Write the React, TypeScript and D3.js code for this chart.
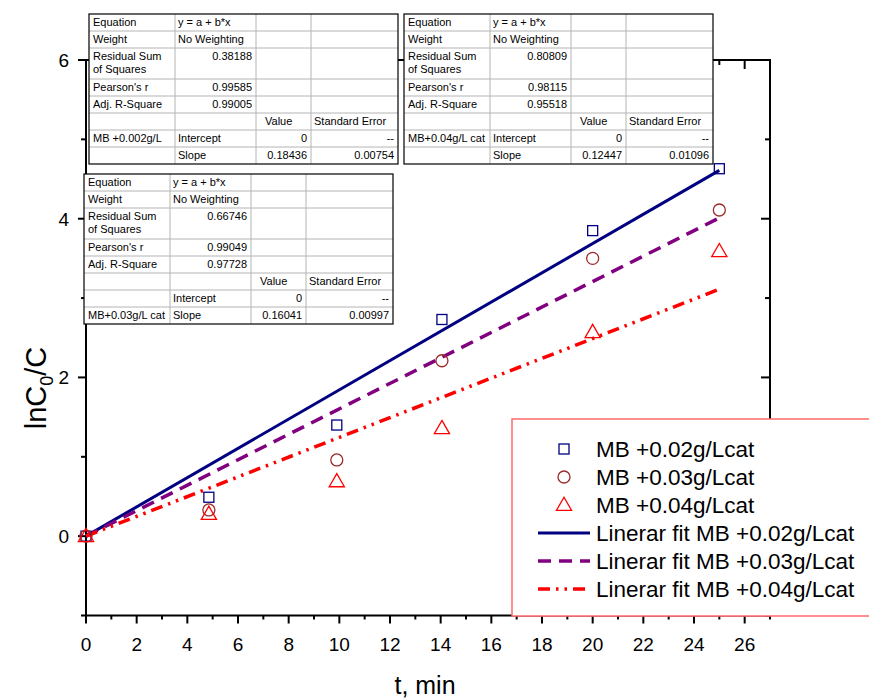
import React from 'react';
import * as d3 from 'd3';

// measured points (t in min, lnC0/C)
const tValues = [0, 4.85, 9.9, 14.05, 20, 25];
const mb002 = [0, 0.49, 1.4, 2.73, 3.85, 4.63];
const mb003 = [0, 0.33, 0.96, 2.21, 3.5, 4.11];
const mb004 = [0, 0.28, 0.69, 1.36, 2.57, 3.59];

// linear fits y = b*x
const fitSlopes = [0.18436, 0.16041, 0.12447];
const fitRange = [0, 25];

const xMajorTicks = [0, 2, 4, 6, 8, 10, 12, 14, 16, 18, 20, 22, 24, 26];
const xMinorTicks = [1, 3, 5, 7, 9, 11, 13, 15, 17, 19, 21, 23, 25, 27];
const yMajorTicks = [0, 2, 4, 6];
const yMinorTicks = [-1, 1, 3, 5];

const legendLabels = [
  'MB +0.02g/Lcat',
  'MB +0.03g/Lcat',
  'MB +0.04g/Lcat',
  'Linerar fit MB +0.02g/Lcat',
  'Linerar fit MB +0.03g/Lcat',
  'Linerar fit MB +0.04g/Lcat',
];

// fit report tables
const tableNames = ['MB +0.002g/L', 'MB+0.04g/L cat', 'MB+0.03g/L cat'];
const tableRss = ['0.38188', '0.80809', '0.66746'];
const tablePearson = ['0.99585', '0.98115', '0.99049'];
const tableAdjR2 = ['0.99005', '0.95518', '0.97728'];
const tableSlope = ['0.18436', '0.12447', '0.16041'];
const tableSlopeErr = ['0.00754', '0.01096', '0.00997'];
const tableNameRow = [6, 6, 7];

const FONT = 'Liberation Sans, Arial, sans-serif';
const navy = '#000080';
const wine = '#9b2b2b';
const red = '#ff0000';
const purple = '#800080';

const x = d3.scaleLinear().domain([0, 27]).range([86, 770]);
const y = d3.scaleLinear().domain([-1, 6]).range([615.5, 60]);

const series = [
  { values: mb002, color: navy, shape: 'square' },
  { values: mb003, color: wine, shape: 'circle' },
  { values: mb004, color: red, shape: 'triangle' },
];
const fits = [
  { color: navy, dash: 'none', width: 3 },
  { color: purple, dash: '13,8', width: 3.5 },
  { color: red, dash: '12,6,2.5,6,2.5,6', width: 3.5 },
];

const Marker = ({ shape, cx, cy, color }) => {
  if (shape === 'square')
    return <rect x={cx - 5} y={cy - 5} width={10} height={10} fill="none" stroke={color} strokeWidth={1.3} />;
  if (shape === 'circle')
    return <circle cx={cx} cy={cy} r={6} fill="none" stroke={color} strokeWidth={1.3} />;
  const tri = d3.symbol().type(d3.symbolTriangle).size(100)();
  return <path d={tri} transform={`translate(${cx},${cy + 1})`} fill="none" stroke={color} strokeWidth={1.3} />;
};

const colW = [86, 81, 55, 87];
const rowH = [17, 17, 31, 17, 17, 17, 17, 17];

const FitTable = ({ i, left, top }) => {
  const rows = [
    ['Equation', 'y = a + b*x', '', ''],
    ['Weight', 'No Weighting', '', ''],
    ['Residual Sum|of Squares', tableRss[i], '', ''],
    ["Pearson's r", tablePearson[i], '', ''],
    ['Adj. R-Square', tableAdjR2[i], '', ''],
    ['', '', 'Value', 'Standard Error'],
    ['', 'Intercept', '0', '--'],
    ['', 'Slope', tableSlope[i], tableSlopeErr[i]],
  ];
  rows[tableNameRow[i]][0] = tableNames[i];
  const colX = colW.map((_, k) => left + d3.sum(colW.slice(0, k)));
  const rowY = rowH.map((_, k) => top + d3.sum(rowH.slice(0, k)));
  const W = d3.sum(colW);
  const H = d3.sum(rowH);
  return (
    <g fontFamily={FONT} fontSize={11} fill="#000">
      <rect x={left} y={top} width={W} height={H} fill="#fff" />
      {rowY.slice(1).map((ry, k) => (
        <line key={'h' + k} x1={left} x2={left + W} y1={ry} y2={ry} stroke="#b4b4b4" />
      ))}
      {colX.slice(1).map((cx, k) => (
        <line key={'v' + k} x1={cx} x2={cx} y1={top} y2={top + H} stroke="#b4b4b4" />
      ))}
      <rect x={left} y={top} width={W} height={H} fill="none" stroke="#000" strokeWidth={1.2} />
      {rows.map((row, r) =>
        row.map((cell, c) => {
          if (!cell) return null;
          const numeric = /^[0-9.\-]+$/.test(cell);
          const pad = cell === 'Value' ? 9 : c === 0 ? 4 : 3;
          const tx = numeric ? colX[c] + colW[c] - 4 : colX[c] + pad;
          return (
            <text key={r + '-' + c} textAnchor={numeric ? 'end' : 'start'}>
              {cell.split('|').map((ln, li) => (
                <tspan key={li} x={tx} y={rowY[r] + 12 + li * 13}>
                  {ln}
                </tspan>
              ))}
            </text>
          );
        })
      )}
    </g>
  );
};

const App = () => {
  const fitPath = (b: number) =>
    d3
      .line<number>()
      .x((t) => x(t))
      .y((t) => y(b * t))(fitRange) || '';

  return (
    <svg
      width={869}
      height={699}
      style={{ position: 'absolute', left: 0, top: 0, background: '#fff' }}
      fontFamily={FONT}
    >
      <rect width={869} height={699} fill="#fff" />

      {/* frame */}
      <rect x={x(0)} y={y(6)} width={x(27) - x(0)} height={y(-1) - y(6)} fill="none" stroke="#000" strokeWidth={2} />

      {/* bottom + top ticks */}
      {xMajorTicks.map((t) => (
        <g key={'xm' + t}>
          <line x1={x(t)} x2={x(t)} y1={y(-1)} y2={y(-1) + 8} stroke="#000" strokeWidth={2} />
          <line x1={x(t)} x2={x(t)} y1={y(6)} y2={y(6) + 9} stroke="#000" strokeWidth={2} />
          <text x={x(t)} y={651} textAnchor="middle" fontSize={19}>
            {t}
          </text>
        </g>
      ))}
      {xMinorTicks.map((t) => (
        <g key={'xn' + t}>
          <line x1={x(t)} x2={x(t)} y1={y(-1)} y2={y(-1) + 4} stroke="#000" strokeWidth={2} />
          <line x1={x(t)} x2={x(t)} y1={y(6)} y2={y(6) + 5} stroke="#000" strokeWidth={2} />
        </g>
      ))}

      {/* left + right ticks */}
      {yMajorTicks.map((v) => (
        <g key={'ym' + v}>
          <line x1={x(0) - 8} x2={x(0)} y1={y(v)} y2={y(v)} stroke="#000" strokeWidth={2} />
          <line x1={x(27) - 9} x2={x(27)} y1={y(v)} y2={y(v)} stroke="#000" strokeWidth={2} />
          <text x={69} y={y(v)} dy="0.36em" textAnchor="end" fontSize={19}>
            {v}
          </text>
        </g>
      ))}
      {yMinorTicks.map((v) => (
        <g key={'yn' + v}>
          <line x1={x(0) - 5} x2={x(0)} y1={y(v)} y2={y(v)} stroke="#000" strokeWidth={2} />
          <line x1={x(27) - 5} x2={x(27)} y1={y(v)} y2={y(v)} stroke="#000" strokeWidth={2} />
        </g>
      ))}

      {/* axis titles */}
      <text x={425} y={694} textAnchor="middle" fontSize={25}>
        t, min
      </text>
      <text transform="translate(46,388) rotate(-90)" textAnchor="middle" fontSize={29}>
        lnC<tspan fontSize={18} dy={7}>0</tspan>
        <tspan dy={-7}>/C</tspan>
      </text>

      {/* fit lines */}
      {fits.map((f, k) => (
        <path
          key={'fit' + k}
          d={fitPath(fitSlopes[k])}
          fill="none"
          stroke={f.color}
          strokeWidth={f.width}
          strokeDasharray={f.dash}
        />
      ))}

      {/* points */}
      {series.map((s, k) =>
        s.values.map((v, j) => (
          <Marker key={k + '-' + j} shape={s.shape} cx={x(tValues[j])} cy={y(v)} color={s.color} />
        ))
      )}

      {/* fit tables */}
      <FitTable i={0} left={89} top={14} />
      <FitTable i={1} left={404} top={14} />
      <FitTable i={2} left={84} top={174} />

      {/* legend */}
      <g>
        <rect x={512} y={419} width={370} height={197} fill="#fff" stroke="#ff6b6b" strokeWidth={1.5} />
        {legendLabels.map((lab, k) => {
          const ly = 449 + k * 28;
          return (
            <g key={lab}>
              {k < 3 ? (
                <Marker shape={series[k].shape} cx={564} cy={ly} color={series[k].color} />
              ) : (
                <line
                  x1={538}
                  x2={590}
                  y1={ly}
                  y2={ly}
                  stroke={fits[k - 3].color}
                  strokeWidth={fits[k - 3].width}
                  strokeDasharray={fits[k - 3].dash}
                />
              )}
              <text x={596} y={ly} dy="0.36em" fontSize={22.5}>
                {lab}
              </text>
            </g>
          );
        })}
      </g>
    </svg>
  );
};

export default App;
